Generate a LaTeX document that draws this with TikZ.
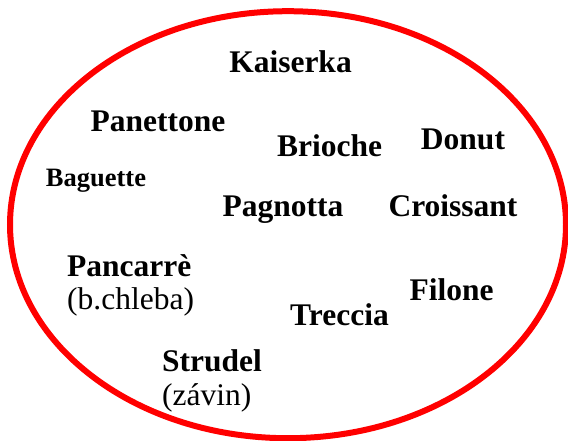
\documentclass[tikz,border=0pt]{standalone}
\usepackage{fontspec}
\setmainfont{Liberation Serif}
\usepackage{tikz}
\tikzset{
  font={\fontsize{31.5pt}{36}\selectfont\bfseries}}

\begin{document}
\begin{tikzpicture}[x=1pt,y=1pt]
\tikzstyle{every node}+=[inner sep=0pt,anchor=base]
\tikzstyle{note}=[font={\fontsize{31.5pt}{36}\selectfont\mdseries},anchor=base west]
\useasboundingbox (0,0) rectangle (568,-441);
\draw [red,line width=6pt] (288,-224.7) ellipse (278 and 213.5);
\node (kaiserka) at (290.5,-73) {Kaiserka};
\node (panettone) at (158,-132) {Panettone};
\node (brioche) at (329.5,-157) {Brioche};
\node (donut) at (463,-150) {Donut};
\node (baguette) at (96,-187) [font={\fontsize{26.5pt}{30}\selectfont\bfseries}] {Baguette};
\node (pagnotta) at (283,-216) {Pagnotta};
\node (croissant) at (453,-216) {Croissant};
\node (pancarre) at (67,-276) [anchor=base west] {Pancarrè};
\node (chleba) at (67,-309) [note] {(b.chleba)};
\node (filone) at (451.5,-300) {Filone};
\node (treccia) at (339.5,-325) {Treccia};
\node (strudel) at (162,-371) [anchor=base west] {Strudel};
\node (zavin) at (162,-405) [note] {(závin)};
\end{tikzpicture}
\end{document}
